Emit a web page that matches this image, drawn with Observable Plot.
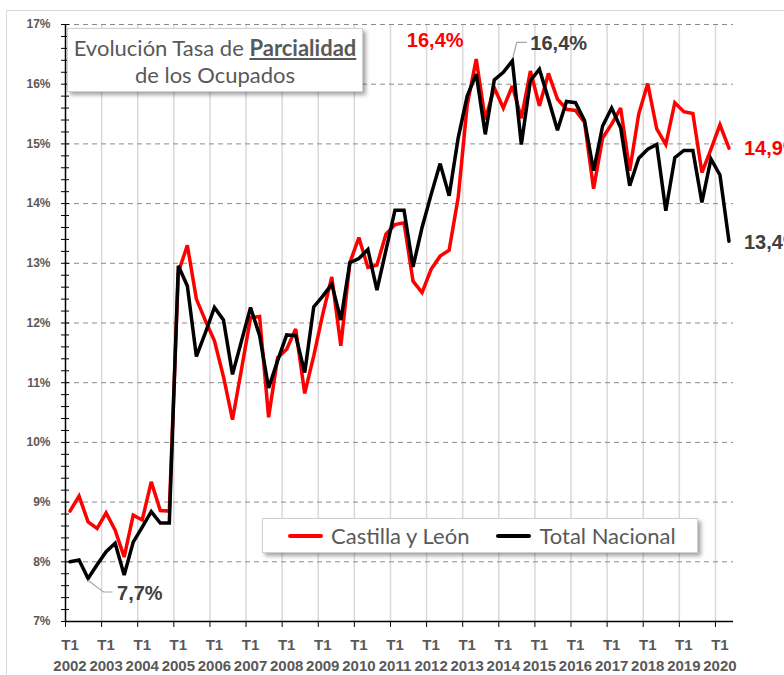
<!DOCTYPE html>
<html>
<head>
<meta charset="utf-8">
<script src="https://cdn.jsdelivr.net/npm/d3@7"></script>
<script src="https://cdn.jsdelivr.net/npm/@observablehq/plot@0.6"></script>
<style>
  body { margin: 0; background: #fff; }
  #wrap { position: relative; width: 784px; height: 675px; overflow: hidden; font-family: Lato, "Liberation Sans", sans-serif; }
  #wrap svg { position: absolute; left: 0; top: 0; }
  .frame { position: absolute; left: 6px; top: 10px; right: -4px; bottom: -4px; border-left: 1px solid #d9d9d9; border-top: 1px solid #d9d9d9; pointer-events: none; }
  #title { position: absolute; left: 67px; top: 28px; width: 296px; height: 64px; box-sizing: border-box; background: #fff; border: 1px solid #d0d0d0; box-shadow: 3px 3px 4px rgba(0,0,0,0.35); color: #595959; font-size: 22px; line-height: 27px; text-align: center; padding-top: 5px; white-space: nowrap; }
  #title b { text-decoration: underline; text-underline-offset: 2px; }
  #legend { position: absolute; left: 262px; top: 518px; width: 436px; height: 35px; box-sizing: border-box; background: #fff; border: 1px solid #d0d0d0; box-shadow: 3px 3px 4px rgba(0,0,0,0.35); color: #595959; font-size: 22px; display: flex; align-items: center; padding-left: 25px; white-space: nowrap; }
  .sw { display: inline-block; width: 35px; height: 4px; border-radius: 2px; margin-right: 8px; }
  .item { display: flex; align-items: center; margin-right: 27px; }
</style>
</head>
<body>
<div id="wrap">
  <div class="frame"></div>
  <div id="chart"></div>
  <div id="title">Evolución Tasa de <b>Parcialidad</b><br>de los Ocupados</div>
  <div id="legend"></div>
</div>
<script>
const years = ["2002","2003","2004","2005","2006","2007","2008","2009","2010","2011","2012","2013","2014","2015","2016","2017","2018","2019","2020"];
const quarters = ["T1","T2","T3","T4"];
const seriesNames = ["Castilla y León", "Total Nacional"];
const seriesColors = ["#ff0000", "#000000"];

const cyl = [
  8.85, 9.10, 8.67, 8.56,  8.82, 8.53, 8.08, 8.78,  8.70, 9.34, 8.86, 8.85,
  12.85, 13.30, 12.40, 12.04,  11.70, 11.10, 10.38, 11.23,  12.09, 12.11, 10.42, 11.42,
  11.56, 11.90, 10.82, 11.45,  12.15, 12.77, 11.62, 13.01,  13.43, 12.93, 12.97, 13.49,
  13.65, 13.68, 12.70, 12.51,  12.90, 13.12, 13.22, 14.10,  15.65, 16.42, 15.41, 15.94,
  15.60, 15.97, 15.43, 16.22,  15.64, 16.18, 15.75, 15.58,  15.56, 15.36, 14.25, 15.10,
  15.33, 15.60, 14.55, 15.50,  16.01, 15.25, 14.99, 15.69,  15.54, 15.51, 14.52, 14.91,
  15.32, 14.93
];
const nacional = [
  8.00, 8.03, 7.72, 7.95,  8.17, 8.31, 7.78, 8.33,  8.58, 8.84, 8.65, 8.65,
  12.96, 12.62, 11.44, 11.84,  12.26, 12.05, 11.14, 11.70,  12.26, 11.79, 10.91, 11.37,
  11.80, 11.79, 11.17, 12.27,  12.45, 12.65, 12.05, 13.01,  13.08, 13.23, 12.55, 13.22,
  13.89, 13.89, 12.94, 13.60,  14.15, 14.67, 14.13, 15.10,  15.80, 16.17, 15.16, 16.07,
  16.20, 16.39, 14.99, 16.06,  16.25, 15.75, 15.23, 15.71,  15.69, 15.39, 14.55, 15.30,
  15.60, 15.27, 14.30, 14.76,  14.91, 14.99, 13.88, 14.77,  14.89, 14.89, 14.02, 14.75,
  14.48, 13.37
];
const yTicks = [7, 8, 9, 10, 11, 12, 13, 14, 15, 16, 17];

const periods = years.flatMap(y => quarters.map(q => q + " " + y)).slice(0, cyl.length);
const data = periods.map((p, i) => ({ i, p, cyl: cyl[i], nac: nacional[i] }));
const yMinor = d3.range(yTicks[0] * 5, yTicks[yTicks.length - 1] * 5 + 1).map(d => d / 5);
const yearStart = years.map((y, k) => ({ i: k * quarters.length, year: y }));
const yearBound = years.map((y, k) => k * quarters.length - 0.5);

const fmt = v => v.toFixed(1).replace(".", ",") + "%";
const iMaxC = d3.maxIndex(cyl), iMaxN = d3.maxIndex(nacional), iMinN = d3.minIndex(nacional);
const last = data[data.length - 1];

function leader(d, key, pts) {
  return (index, { x, y }) => {
    const px = x(d.i), py = y(d[key]);
    return d3.create("svg:path")
      .attr("d", d3.line()(pts.map(([a, b]) => [px + a, py + b])))
      .attr("fill", "none").attr("stroke", "#a6a6a6").attr("stroke-width", 1.2)
      .node();
  };
}

const chart = Plot.plot({
  width: 784,
  height: 675,
  marginLeft: 65,
  marginRight: 51,
  marginTop: 24,
  marginBottom: 54,
  style: { fontFamily: "'Liberation Sans', Arial, sans-serif", background: "transparent", overflow: "visible" },
  x: { domain: [-0.5, data.length - 0.5], axis: null },
  y: { domain: [yTicks[0], yTicks[yTicks.length - 1]], axis: null },
  marks: [
    Plot.ruleX(yearBound.slice(1), { stroke: "#d9d9d9", strokeWidth: 1.5 }),
    Plot.ruleY(yTicks.slice(1), { stroke: "#8c8c8c", strokeWidth: 1, strokeDasharray: "5,4" }),
    Plot.axisY({ ticks: yMinor, tickSize: 8, dx: 4, tickFormat: () => "", stroke: "#000", label: null }),
    Plot.axisY({ ticks: yTicks, tickSize: 0, tickPadding: 15, tickFormat: d => d + "%", fontSize: 12, fontWeight: "bold", fill: "#595959", label: null }),
    Plot.axisX({ ticks: yearBound, tickSize: 6, tickFormat: () => "", stroke: "#000", label: null }),
    Plot.text(yearStart, { x: "i", y: () => yTicks[0], text: d => quarters[0] + "\n" + d.year, lineAnchor: "top", dy: 14, lineHeight: 1.4, fontSize: 15, fontWeight: "bold", fill: "#595959" }),
    Plot.ruleY([yTicks[0]], { stroke: "#000", strokeWidth: 1.5 }),
    Plot.ruleX([-0.5], { stroke: "#000", strokeWidth: 1.5 }),
    Plot.line(data, { x: "i", y: "cyl", stroke: seriesColors[0], strokeWidth: 3.5, strokeLinejoin: "miter", strokeMiterlimit: 3 }),
    Plot.line(data, { x: "i", y: "nac", stroke: seriesColors[1], strokeWidth: 3.5, strokeLinejoin: "miter", strokeMiterlimit: 3 }),
    // annotations
    Plot.text([data[iMaxC]], { x: "i", y: "cyl", text: d => fmt(d.cyl), dx: -41, dy: -19, fill: "#ff0000", fontSize: 20, fontWeight: "bold" }),
    leader(data[iMaxN], "nac", [[1, -3], [5, -18], [15, -18]]),
    Plot.text([data[iMaxN]], { x: "i", y: "nac", text: d => fmt(d.nac), dx: 18, dy: -17, textAnchor: "start", fill: "#404040", fontSize: 20, fontWeight: "bold" }),
    leader(data[iMinN], "nac", [[0, 2], [16, 14], [25, 14]]),
    Plot.text([data[iMinN]], { x: "i", y: "nac", text: d => fmt(d.nac), dx: 29, dy: 15, textAnchor: "start", fill: "#404040", fontSize: 20, fontWeight: "bold" }),
    Plot.text([last], { x: "i", y: "cyl", text: d => fmt(d.cyl), dx: 15, dy: 1, textAnchor: "start", fill: "#ff0000", fontSize: 20, fontWeight: "bold" }),
    Plot.text([last], { x: "i", y: "nac", text: d => fmt(d.nac), dx: 15, dy: 1, textAnchor: "start", fill: "#404040", fontSize: 20, fontWeight: "bold" })
  ]
});
document.getElementById("chart").appendChild(chart);

const legend = document.getElementById("legend");
seriesNames.forEach((name, k) => {
  const item = document.createElement("span");
  item.className = "item";
  item.innerHTML = `<span class="sw" style="background:${seriesColors[k]}"></span>${name}`;
  legend.appendChild(item);
});
</script>
</body>
</html>
